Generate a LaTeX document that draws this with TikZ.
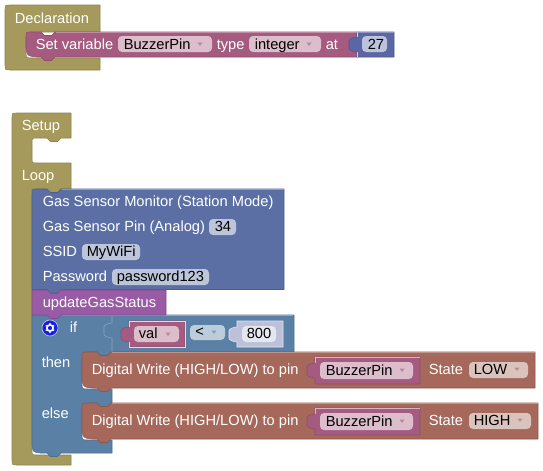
\documentclass[tikz,border=0pt]{standalone}
\usepackage{fontspec}
\setmainfont{Liberation Sans}
\definecolor{olive}{HTML}{A59A5B}
\definecolor{pinkb}{HTML}{A55B80}
\definecolor{pinkf}{HTML}{DBBDCC}
\definecolor{mathb}{HTML}{5B67A5}
\definecolor{mathf}{HTML}{BDC2DB}
\definecolor{gasb}{HTML}{5B6FA5}
\definecolor{gasf}{HTML}{BDC5DB}
\definecolor{logb}{HTML}{5B80A5}
\definecolor{logf}{HTML}{BDCCDB}
\definecolor{purb}{HTML}{995BA5}
\definecolor{redb}{HTML}{A5685B}
\definecolor{redf}{HTML}{DBC3BD}
\definecolor{numl}{HTML}{BCC0D8}
\definecolor{numf}{HTML}{E4E6F0}
\tikzset{
  blk/.style={fill=#1,draw=#1!85!black,line width=.4pt,line join=round},
  hl/.style={draw=#1!70!white,line width=.4pt},
  lbl/.style={anchor=base west,inner sep=0pt,text=white,font=\fontsize{11}{13}\selectfont},
  ftxt/.style={anchor=base west,inner sep=0pt,text=black,font=\fontsize{11}{13}\selectfont},
  fieldbox/.style={fill=#1,draw=none,rounded corners=3pt}
}
% notch moving right / bump moving left (both dip downward)
\def\nR{.. controls +(1.5,0) and +(-1.5,0) .. ++(3.5,3.5) -- ++(7,0) .. controls +(1.5,0) and +(-1.5,0) .. ++(3.5,-3.5)}
\def\nL{.. controls +(-1.5,0) and +(1.5,0) .. ++(-3.5,3.5) -- ++(-7,0) .. controls +(-1.5,0) and +(1.5,0) .. ++(-3.5,-3.5)}
% value tab moving upward, 15 high
\def\tabU{.. controls +(-2,0) and +(0,2) .. ++(-8,-3.5) -- ++(0,-8) .. controls +(0,-2) and +(-2,0) .. ++(8,-3.5)}
\newcommand{\fieldrect}[5]{\fill[fieldbox=#5] (#1,#2) rectangle (#3,#4);}
\newcommand{\darr}[3]{\fill[#3!75!white] (#1-2.5,#2-1.5) -- (#1+2.5,#2-1.5) -- (#1,#2+2) -- cycle;}
\begin{document}
\begin{tikzpicture}[x=.75pt,y=-.75pt]
\useasboundingbox (0,0) rectangle (543,471);
\fill[white] (0,0) rectangle (543,471);

% Declaration hat
\path[blk=olive] (5,10) .. controls (5,5) .. (10,5) -- (100,5) -- (100,32) -- (31,32)
  .. controls (26,32) .. (26,37) -- (26,51) .. controls (26,58) .. (33,58) -- (100,58) -- (100,70) -- (10,70)
  .. controls (5,70) .. (5,65) -- cycle;
\node[lbl] (declTitle) at (14.5,23) {Declaration};

% Set variable block
\path[blk=pinkb] (31,32) -- (41,32) \nR -- (357,32) -- (357,57) -- (55,57) \nL -- (37,57)
  .. controls (27,56) .. (26,47) -- (26,37) .. controls (26,32) .. (31,32) -- cycle;
\draw[hl=pinkb] (56,32) -- (357,32);
\node[lbl] (setLbl) at (35.5,49) {Set variable};
\fieldrect{118}{36}{212}{52}{pinkf}
\node[ftxt] (setVar) at (123.5,49) {BuzzerPin};
\darr{200}{44}{pinkb}
\node[lbl] (typeLbl) at (216.5,49) {type};
\fieldrect{249}{36}{321}{52}{pinkf}
\node[ftxt] (setType) at (254.5,49) {integer};
\darr{309}{44}{pinkb}
\node[lbl] (atLbl) at (325.5,49) {at};
% 27
\path[blk=mathb] (357,57) -- (357,52) \tabU -- (357,32) -- (394,32) -- (394,57) -- cycle;
\draw[hl=mathb] (357,32) -- (394,32);
\draw[white!70!mathb,line width=.4pt] (357,32) -- (357,37) (357,52) -- (357,57);
\fieldrect{362}{36}{387}{52}{mathf}
\node[ftxt] (num27) at (367.5,49) {27};

% Setup / Loop
\path[blk=olive] (12,118) .. controls (12,113) .. (17,113) -- (71,113) -- (71,138) -- (61,138) \nL -- (37,138)
  .. controls (32,138) .. (32,143) -- (32,158) .. controls (32,163) .. (37,163) -- (71,163) -- (71,189)
  -- (61,189) \nL -- (32,189) -- (32,450) .. controls (32,455) .. (37,455) -- (71,455) -- (71,465) -- (17,465)
  .. controls (12,465) .. (12,460) -- cycle;
\node[lbl] (setupLbl) at (21.5,130) {Setup};
\node[lbl] (loopLbl) at (21.5,180) {Loop};

% if block
\path[blk=logb] (32,315) -- (47,315) \nR -- (294,315) -- (294,352) -- (111,352) \nL -- (88,352)
  .. controls (82,352) .. (82,358) -- (82,383) .. controls (82,389) .. (88,389) -- (112,389) -- (112,403)
  -- (111,403) \nL -- (88,403) .. controls (82,403) .. (82,409) -- (82,434) .. controls (82,440) .. (88,440)
  -- (112,440) -- (112,453) -- (61,453) \nL -- (40,453) .. controls (33,452) .. (32,445) -- cycle;
% compare outline
\draw[hl=logb] (112,352) -- (112,338) \tabU -- (112,315);
\draw[hl=logb] (62,315) -- (293,315);
\node[lbl] (ifLbl) at (69.5,332) {if};
\node[lbl] (thenLbl) at (41.5,367) {then};
\node[lbl] (elseLbl) at (41.5,418) {else};
% gear
\fill[fill=blue!75!logb,draw=white!60!logb,line width=.5pt] (50,328) circle[radius=8];
\foreach \a in {30,90,...,330}{\fill[white] (50,328) ++(\a:4.2) circle[radius=.9];}
\fill[white] (50,328) circle[radius=4];
\fill[blue!75!logb] (50,328) circle[radius=2.1];

% val
\path[blk=pinkb] (129,347) -- (129,342) \tabU -- (129,321) -- (185,321) -- (185,347) -- cycle;
\draw[white!75!pinkb,line width=.4pt] (129,327) -- (129,321) -- (185,321) -- (185,347) -- (129,347) -- (129,342);
\fieldrect{134}{326}{179}{342}{pinkf}
\node[ftxt] (valTxt) at (138.5,338) {val};
\darr{168}{334}{pinkb}
% <
\fieldrect{190}{325}{225}{340}{logf}
\node[ftxt] (ltTxt) at (195,336) {<};
\darr{214}{332}{logb}
% 800
\path[fill=numl,draw=white!60!numl,line width=.4pt] (237,347) -- (237,342) \tabU -- (237,321) -- (283,321) -- (283,347) -- cycle;
\fieldrect{242}{326}{276}{342}{numf}
\node[ftxt] (num800) at (246.5,338) {800};

% Gas sensor block
\path[blk=gasb] (37,189) -- (47,189) \nR -- (284,189) -- (284,289.5) -- (61,289.5) \nL -- (32,289.5) -- (32,194)
  .. controls (32,189) .. (37,189) -- cycle;
\draw[hl=gasb] (62,189) -- (284,189);
\node[lbl] (gas1) at (42.5,206) {Gas Sensor Monitor (Station Mode)};
\node[lbl] (gas2) at (42.5,231) {Gas Sensor Pin (Analog)};
\fieldrect{209}{219}{236}{235}{gasf}
\node[ftxt] (gas34) at (214.5,231) {34};
\node[lbl] (gas3) at (42.5,256) {SSID};
\fieldrect{82}{244}{140}{260}{gasf}
\node[ftxt] (gasSsid) at (86.5,256) {MyWiFi};
\node[lbl] (gas4) at (42.5,281) {Password};
\fieldrect{112}{269}{209}{285}{gasf}
\node[ftxt] (gasPw) at (116.5,281) {password123};

% updateGasStatus
\path[blk=purb] (32,290) -- (47,290) \nR -- (166,290) -- (166,315) -- (61,315) \nL -- (32,315) -- cycle;
\node[lbl] (updLbl) at (42.5,307) {updateGasStatus};

% Digital write 1
\path[blk=redb] (88,352) -- (97,352) \nR -- (535,352) -- (535,388) -- (111,388) \nL -- (92,388)
  .. controls (83,387) .. (82,378) -- (82,358) .. controls (82,352) .. (88,352) -- cycle;
\draw[hl=redb] (112,352) -- (535,352);
\node[lbl] (dw1) at (91.5,374) {Digital Write (HIGH/LOW) to pin};
\path[blk=pinkb] (315,384) -- (315,378) \tabU -- (315,357) -- (420,357) -- (420,384) -- cycle;
\draw[white!55!pinkb,line width=.4pt] (315,363) -- (315,357) -- (420,357);
\fieldrect{320}{362}{413}{379}{pinkf}
\node[ftxt] (pin1) at (325.5,375) {BuzzerPin};
\darr{402}{370}{pinkb}
\node[lbl] (state1) at (428.5,374) {State};
\fieldrect{469}{362}{528}{378}{redf}
\node[ftxt] (low) at (473.5,374) {LOW};
\darr{517}{369}{redb}

% Digital write 2
\path[blk=redb] (88,403) -- (97,403) \nR -- (538,403) -- (538,439) -- (111,439) \nL -- (92,439)
  .. controls (83,438) .. (82,429) -- (82,409) .. controls (82,403) .. (88,403) -- cycle;
\draw[hl=redb] (112,403) -- (538,403);
\node[lbl] (dw2) at (91.5,425) {Digital Write (HIGH/LOW) to pin};
\path[blk=pinkb] (315,435) -- (315,429) \tabU -- (315,408) -- (420,408) -- (420,435) -- cycle;
\draw[white!55!pinkb,line width=.4pt] (315,414) -- (315,408) -- (420,408);
\fieldrect{320}{413}{413}{430}{pinkf}
\node[ftxt] (pin2) at (325.5,426) {BuzzerPin};
\darr{402}{421}{pinkb}
\node[lbl] (state2) at (428.5,425) {State};
\fieldrect{469}{413}{531}{429}{redf}
\node[ftxt] (high) at (473.5,425) {HIGH};
\darr{520}{420}{redb}
\end{tikzpicture}
\end{document}
